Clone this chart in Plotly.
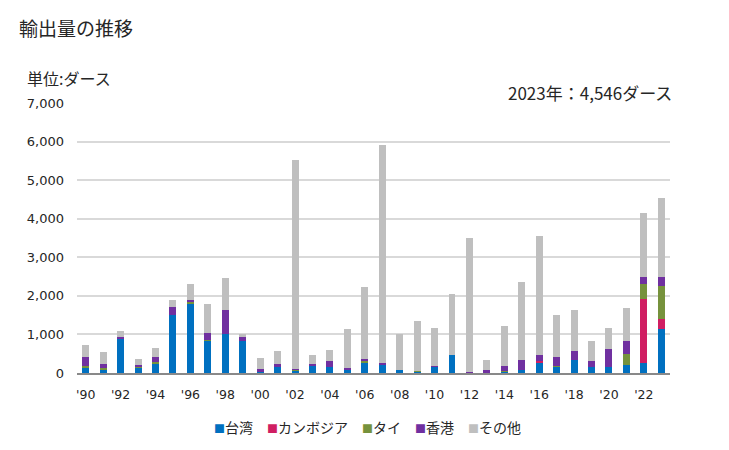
import plotly.graph_objects as go

years = list(range(1990, 2024))
taiwan = [150, 95, 873, 147, 242, 1495, 1806, 838, 1020, 821,
          26, 147, 52, 199, 147, 95, 268, 199, 86, 26,
          164, 467, 8, 8, 35, 86, 268, 164, 346, 164,
          164, 216, 268, 1132]
cambodia = [0, 0, 0, 0, 0, 0, 0, 0, 0, 0,
            0, 0, 0, 0, 0, 0, 0, 0, 0, 0,
            0, 0, 0, 0, 0, 0, 35, 0, 0, 0,
            0, 0, 1659, 259]
thai = [25, 25, 0, 25, 52, 0, 26, 26, 0, 0,
        0, 0, 35, 0, 0, 0, 52, 0, 0, 35,
        0, 0, 0, 0, 26, 0, 0, 26, 0, 0,
        0, 285, 389, 873]
hongkong = [250, 120, 52, 45, 112, 225, 52, 181, 622, 104,
            86, 95, 26, 43, 173, 43, 52, 69, 0, 0,
            26, 8, 26, 78, 130, 259, 173, 233, 233, 156,
            467, 337, 182, 233]
others = [310, 313, 173, 156, 251, 181, 432, 752, 830, 95,
          285, 337, 5419, 233, 285, 1011, 1867, 5653, 933, 1296,
          985, 1582, 3475, 259, 1037, 2022, 3086, 1089, 1063, 519,
          545, 856, 1659, 2049]

series_names = ["台湾", "カンボジア", "タイ", "香港", "その他"]
series_values = [taiwan, cambodia, thai, hongkong, others]
series_colors = ["#0070C0", "#D01E62", "#76923C", "#7030A0", "#BFBFBF"]

tick_years = list(range(1990, 2024, 2))
tick_labels = ["'" + str(y)[2:] for y in tick_years]

cjk = "Noto Sans CJK JP, Noto Sans, sans-serif"
num_font = "DejaVu Sans, Verdana, sans-serif"
text_color = "#262626"

fig = go.Figure()
for name, vals, color in zip(series_names, series_values, series_colors):
    fig.add_trace(go.Bar(x=years, y=vals, name=name, marker_color=color,
                         marker_line_width=0))

# compact legend row (square + label), as in the reference
legend_parts = []
for name, color in zip(series_names, series_colors):
    legend_parts.append(
        f"<span style='color:{color};font-size:11px'>■</span>{name}")
legend_text = "&#8195;".join(legend_parts)

fig.update_layout(
    barmode="stack",
    bargap=0.6,
    width=729, height=450,
    margin=dict(l=77, r=59, t=103, b=77, autoexpand=False),
    plot_bgcolor="white", paper_bgcolor="white",
    font=dict(family=cjk, size=12, color=text_color),
    showlegend=False,
    xaxis=dict(range=[1989.5, 2023.5], tickvals=tick_years, ticktext=tick_labels,
               showgrid=False, showline=True, linecolor="#898989", linewidth=1.5,
               ticks="", ticklabelstandoff=9,
               tickfont=dict(family=num_font, size=12.5, color=text_color)),
    yaxis=dict(range=[0, 7000], dtick=1000, tickformat=",d",
               showgrid=True, gridcolor="#D9D9D9", gridwidth=1.5,
               zeroline=False, ticks="", ticklabelstandoff=12,
               tickfont=dict(family=num_font, size=13, color=text_color)),
    annotations=[
        dict(text="輸出量の推移", xref="paper", yref="paper", x=-0.101, y=1.0,
             xanchor="left", yanchor="middle", showarrow=False,
             font=dict(size=19, color=text_color), yshift=76),
        dict(text="単位:ダース", xref="paper", yref="paper", x=-0.087, y=1.0,
             xanchor="left", yanchor="middle", showarrow=False,
             font=dict(size=16, color=text_color), yshift=25),
        dict(text="2023年：4,546ダース", xref="paper", yref="paper", x=1.006, y=1.0,
             xanchor="right", yanchor="middle", showarrow=False,
             font=dict(size=17, color=text_color), yshift=11),
        dict(text=legend_text, xref="paper", yref="paper", x=0.49, y=0.0,
             xanchor="center", yanchor="middle", showarrow=False,
             font=dict(size=14, color=text_color), yshift=-54),
    ],
)

fig.write_html("out.html")
